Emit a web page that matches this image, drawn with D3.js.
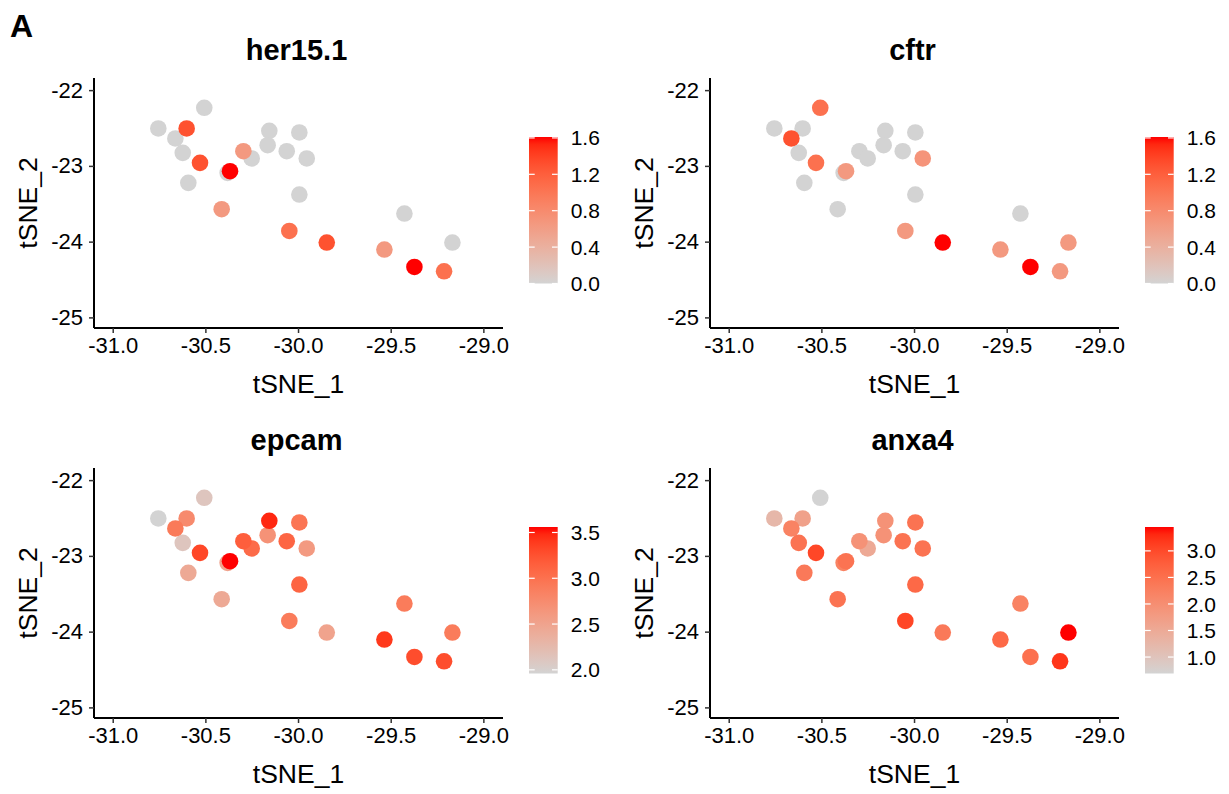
<!DOCTYPE html>
<html>
<head>
<meta charset="utf-8">
<script src="https://cdn.jsdelivr.net/npm/d3@7"></script>
<style>
  body { margin: 0; background: #fff; }
  text { font-family: "Liberation Sans", Arial, sans-serif; }
</style>
</head>
<body>
<script>
// cell embedding (same cells in each panel)
var cellX = [-30.754, -30.506, -30.601, -30.662, -30.622, -30.529, -30.592, -30.367, -30.295, -30.25,
             -30.155, -30.164, -30.061, -29.993, -29.953, -29.993, -30.412, -30.047, -29.845, -29.426,
             -29.167, -29.534, -29.372, -29.212, -30.38];
var cellY = [-22.506, -22.233, -22.506, -22.638, -22.828, -22.96, -23.224, -23.07, -22.806, -22.902,
             -22.537, -22.727, -22.806, -22.559, -22.902, -23.378, -23.572, -23.859, -24.012, -23.629,
             -24.012, -24.104, -24.334, -24.391, -23.092];

// expression per gene, same cell order
var her15 = [0, 0, 1.3, 0, 0, 1.3, 0, 1.61, 0.65, 0,
             0, 0, 0, 0, 0, 0, 0.65, 1.05, 1.3, 0,
             0, 0.65, 1.61, 1.05, 0];
var cftr = [0, 1.05, 0, 1.3, 0, 1.05, 0, 0.65, 0, 0,
            0, 0, 0, 0, 0.7, 0, 0, 0.65, 1.61, 0,
            0.65, 0.65, 1.61, 0.65, 0];
var epcam = [1.96, 2.12, 2.76, 2.92, 2.12, 3.32, 2.44, 3.56, 3.16, 3.05,
             3.48, 2.68, 3.1, 2.96, 2.6, 3.1, 2.44, 2.9, 2.5, 2.9,
             2.9, 3.4, 3.28, 3.28, 2.5];
var anxa4 = [1.24, 0.69, 1.66, 2.2, 2.45, 3.04, 2.35, 2.45, 1.93, 1.52,
             1.93, 1.93, 2.45, 2.45, 2.45, 2.6, 2.45, 3.05, 2.35, 2.2,
             3.45, 2.6, 2.5, 3.2, 2.2];

var genes = ["her15.1", "cftr", "epcam", "anxa4"];
var xTicks = [-31, -30.5, -30, -29.5, -29];
var yTicks = [-22, -23, -24, -25];
var legendTicks = [
    [0, 0.4, 0.8, 1.2, 1.6],
    [0, 0.4, 0.8, 1.2, 1.6],
    [2.0, 2.5, 3.0, 3.5],
    [1.0, 1.5, 2.0, 2.5, 3.0]
];

var width = 1229;
var height = 794;
var svg = d3.select("body").append("svg").attr("width", width).attr("height", height);

var exprs = [her15, cftr, epcam, anxa4];
var panelLeft = [94, 710, 94, 710];
var panelTop = [78, 78, 468, 468];
var pw = 409, ph = 250;

var x = d3.scaleLinear().domain([-31.101, -28.894]).range([0, pw]);
var y = d3.scaleLinear().domain([-25.14, -21.84]).range([ph, 0]);

// plain hyphen minus like R output
function hy(f) {
    return function (v) { return f(v).replace("\u2212", "-"); };
}

svg.append("text")
    .attr("x", 10).attr("y", 37)
    .attr("font-size", 32).attr("font-weight", "bold")
    .text("A");

genes.forEach(function (gene, i) {
    var g = svg.append("g").attr("transform", "translate(" + panelLeft[i] + "," + panelTop[i] + ")");
    var vals = exprs[i];
    var ext = d3.extent(vals);
    var color = d3.scaleLinear().domain(ext).range(["#d3d3d3", "#ff0000"]).interpolate(d3.interpolateLab);

    var cells = vals.map(function (v, k) { return { x: cellX[k], y: cellY[k], v: v }; });
    cells.sort(function (a, b) { return a.v - b.v; });

    g.selectAll("circle")
        .data(cells)
        .enter().append("circle")
        .attr("cx", function (d) { return x(d.x); })
        .attr("cy", function (d) { return y(d.y); })
        .attr("r", 8.3)
        .attr("fill", function (d) { return color(d.v); });

    // axes
    var xa = g.append("g").attr("transform", "translate(0," + ph + ")")
        .call(d3.axisBottom(x).tickValues(xTicks).tickFormat(hy(d3.format(".1f"))).tickSize(5).tickPadding(4));
    var ya = g.append("g")
        .call(d3.axisLeft(y).tickValues(yTicks).tickFormat(hy(d3.format("d"))).tickSize(5).tickPadding(6));
    [xa, ya].forEach(function (a) {
        a.select(".domain").attr("stroke", "#000").attr("stroke-width", 2);
        a.selectAll(".tick line").attr("stroke", "#333").attr("stroke-width", 1.5);
        a.selectAll(".tick text").attr("font-size", 22).attr("fill", "#000")
            .style("font-family", "'Liberation Sans', Arial, sans-serif");
    });
    xa.select(".domain").attr("d", "M0,0H" + pw);
    ya.select(".domain").attr("d", "M0," + ph + "V0");

    g.append("text")
        .attr("x", pw / 2).attr("y", ph + 65)
        .attr("text-anchor", "middle").attr("font-size", 26.5)
        .text("tSNE_1");
    g.append("text")
        .attr("transform", "translate(-57," + (ph / 2) + ") rotate(-90)")
        .attr("text-anchor", "middle").attr("font-size", 26.5)
        .text("tSNE_2");
    g.append("text")
        .attr("x", pw / 2 - 2).attr("y", -18)
        .attr("text-anchor", "middle").attr("font-size", 29).attr("font-weight", "bold")
        .text(gene);

    // colour bar
    var bw = 28.7, bh = 146.5;
    var lg = g.append("g").attr("transform", "translate(435,59)");
    var gid = "grad" + i;
    var grad = svg.append("defs").append("linearGradient")
        .attr("id", gid).attr("x1", 0).attr("y1", 1).attr("x2", 0).attr("y2", 0);
    d3.range(0, 1.0001, 0.05).forEach(function (t) {
        grad.append("stop").attr("offset", t)
            .attr("stop-color", color(ext[0] + t * (ext[1] - ext[0])));
    });
    lg.append("rect").attr("width", bw).attr("height", bh).attr("fill", "url(#" + gid + ")");
    var ly = d3.scaleLinear().domain(ext).range([bh, 0]);
    legendTicks[i].forEach(function (t) {
        var yy = ly(t);
        lg.append("line").attr("x1", 0).attr("x2", 5.7).attr("y1", yy).attr("y2", yy)
            .attr("stroke", "#fff").attr("stroke-width", 1.2);
        lg.append("line").attr("x1", bw - 5.7).attr("x2", bw).attr("y1", yy).attr("y2", yy)
            .attr("stroke", "#fff").attr("stroke-width", 1.2);
        lg.append("text").attr("x", bw + 13).attr("y", yy).attr("dy", "0.36em")
            .attr("font-size", 21).text(d3.format(".1f")(t));
    });
});
</script>
</body>
</html>
